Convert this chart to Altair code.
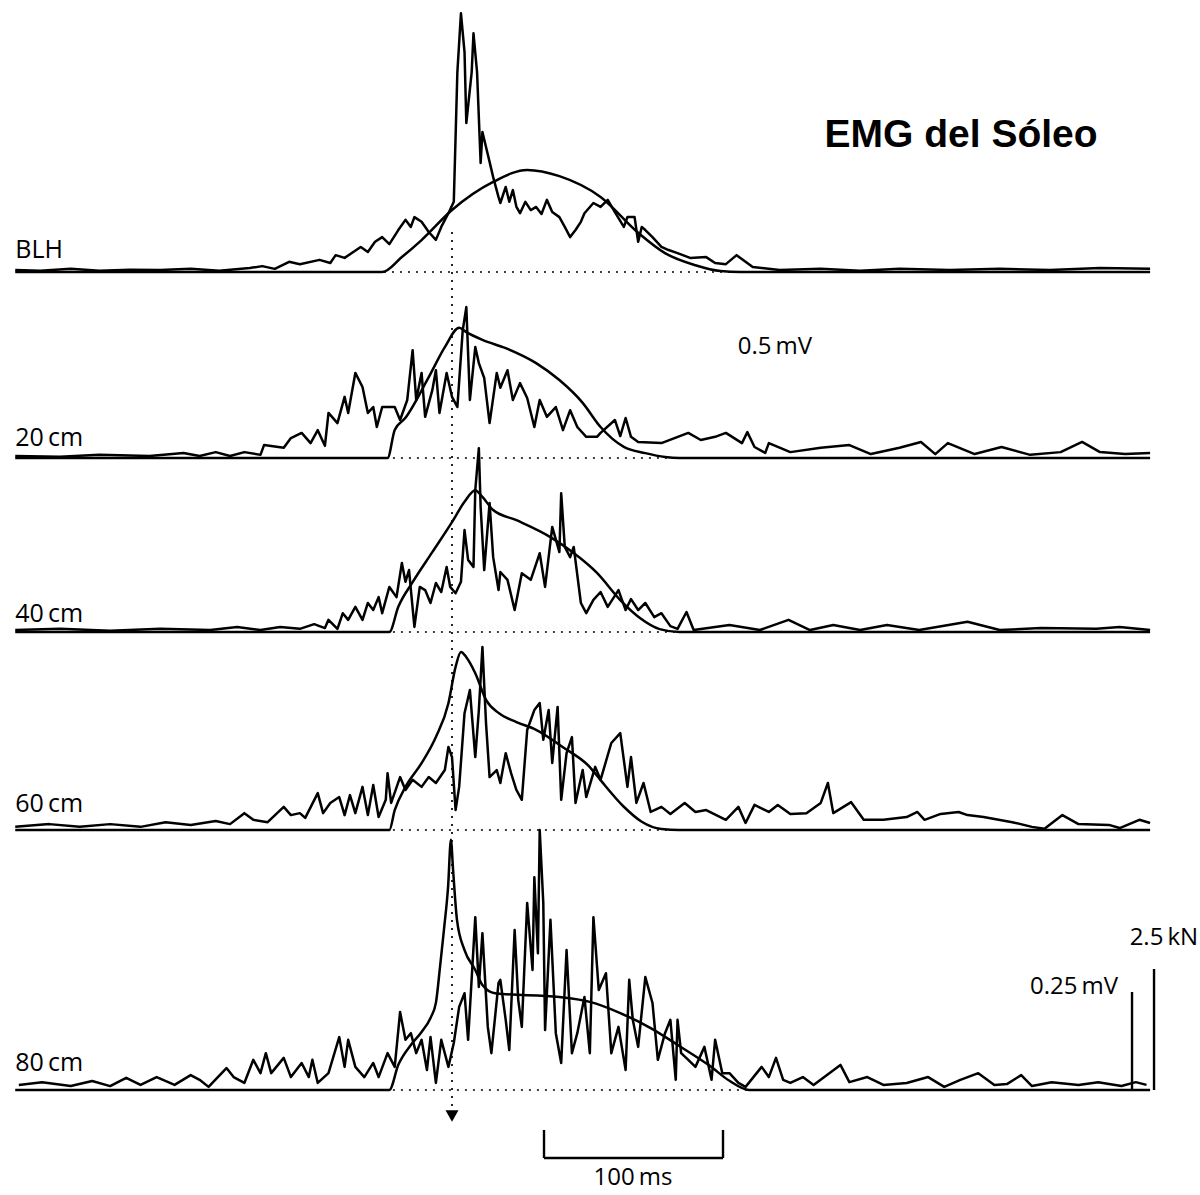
import altair as alt
import pandas as pd

# ---------------- data (time in ms, 0 = dotted reference line; EMG in µV; force in N)
BLH_EMG_T = [-244,-230,-213,-197,-180,-163,-146,-130,-113,-106,-99,-91,-85,-74,-68,-65,-60,-51,-47,
             -43,-39,-35,-30,-26,-23,-21,-17,-13,-9,-6,-2,1,3,5,7,8,11,12,14,16,17,19,21,23,26,27,30,32,34,
             36,38,41,44,47,50,53,56,60,63,66,69,72,74,79,83,87,91,96,98,102,104,106,108,112,117,121,126,133,142,
             147,153,159,164,168,183,206,228,250,278,306,334,362,390]
BLH_EMG_UV = [5,3,8,3,6,5,8,3,10,15,8,26,20,31,23,43,36,64,51,
              77,89,71,107,133,115,140,128,102,82,115,150,179,510,660,561,380,510,609,510,278,357,319,281,242,191,176,217,179,209,
              166,150,179,158,166,148,184,153,140,115,89,107,128,150,176,166,184,153,115,140,140,77,115,107,89,64,56,48,36,38,
              23,20,43,26,13,5,8,3,8,5,8,5,10,8]
BLH_F_T = [-244,-39,-28,-17,0,23,42,60,83,104,119,136,150,161,390]
BLH_F_N = [0,0,310,660,1280,1860,2110,1980,1550,810,390,140,20,0,0]

CM20_EMG_T = [-244,-219,-197,-169,-150,-141,-132,-124,-116,-107,-105,-94,-90,-84,-79,-75,-71,-69,-64,-60,
              -58,-54,-50,-47,-44,-42,-39,-32,-29,-25,-22,-20,-17,-15,-11,-9,-7,-3,0,3,
              6,8,10,13,15,18,21,25,27,31,34,38,42,46,49,53,58,62,66,70,
              75,81,83,91,94,97,100,104,117,132,139,147,153,162,165,169,175,177,189,206,
              222,234,250,262,270,277,292,307,323,340,352,362,376,390]
CM20_EMG_UV = [5,3,8,5,13,5,15,5,15,8,33,26,51,64,38,71,31,115,89,156,
               115,217,181,115,130,79,130,130,97,148,275,148,217,105,173,224,115,217,156,130,
               326,385,148,283,242,204,89,217,179,224,148,191,153,79,148,105,130,71,122,79,
               54,54,64,97,56,102,54,41,38,64,46,54,64,38,66,28,13,38,15,26,
               33,10,26,41,10,38,10,28,8,15,41,15,10,13]
CM20_F_T = [-244,-36,-32,-26,-13,-4,4,8,17,30,47,60,73,83,96,108,119,127,390]
CM20_F_N = [0,0,580,830,1670,2290,2690,2600,2440,2270,1960,1610,1140,640,230,100,20,0,0]

CM40_EMG_T = [-244,-219,-191,-163,-135,-120,-107,-96,-85,-77,-71,-69,-64,-61,-58,-54,-50,-47,-44,-41,
              -39,-35,-31,-28,-26,-24,-21,-18,-15,-12,-9,-6,-3,-1,2,5,7,9,12,13,
              15,16,18,21,23,26,27,31,35,39,44,49,52,56,60,61,63,66,68,72,
              75,79,83,87,93,97,100,104,108,113,117,122,126,131,135,155,172,188,200,213,
              228,243,261,288,306,329,360,373,390]
CM40_EMG_UV = [5,8,3,8,5,13,5,13,8,20,10,31,8,48,31,64,31,74,56,89,
               48,115,89,176,128,158,13,115,107,74,125,102,166,115,99,128,260,184,166,362,
               469,319,158,329,191,107,153,133,56,150,133,201,115,268,204,354,217,191,217,74,
               48,82,102,64,107,56,84,56,74,38,48,15,8,51,5,18,5,31,5,18,
               5,18,5,26,5,10,8,13,5]
CM40_F_T = [-244,-35,-30,-22,-11,0,7,13,17,23,36,55,68,81,94,105,116,127,390]
CM40_F_N = [0,0,520,1030,1650,2270,2690,2930,2790,2520,2310,1960,1630,1220,660,290,60,0,0]

CM60_EMG_T = [-244,-225,-208,-191,-174,-160,-146,-132,-124,-116,-111,-103,-94,-90,-85,-82,-75,-72,-68,-63,
              -60,-57,-54,-50,-47,-44,-41,-37,-36,-34,-29,-26,-22,-17,-13,-9,-4,-2,0,2,
              4,7,10,13,15,17,19,21,25,27,30,33,36,39,42,46,49,51,54,56,
              59,61,64,67,69,73,75,80,83,89,94,98,100,103,107,111,117,122,130,136,
              142,153,160,164,169,177,182,189,198,206,210,213,223,230,241,254,260,264,273,283,
              288,297,313,324,331,341,350,367,373,384,390]
CM60_EMG_UV = [8,15,8,15,8,20,13,23,15,43,26,20,59,38,43,31,94,43,69,84,
               38,89,43,110,38,115,33,77,145,69,135,102,128,110,135,120,153,212,186,51,
               110,298,357,186,306,467,273,135,153,120,196,145,102,77,255,306,324,230,306,171,
               314,77,196,237,69,153,84,161,128,222,247,110,186,69,120,46,59,41,69,46,
               51,26,59,18,64,46,64,41,43,69,120,43,71,26,26,33,46,26,41,46,
               38,33,20,8,3,38,15,13,5,26,18]
CM60_F_T = [-244,-35,-32,-26,-17,-9,-2,2,5,8,13,19,26,36,47,62,77,83,96,106,117,127,390]
CM60_F_N = [0,0,410,890,1380,1920,2620,3370,3680,3570,3240,2690,2420,2230,2070,1710,1300,1030,480,170,20,0,0]

CM80_EMG_T = [-242,-229,-213,-201,-191,-182,-174,-165,-155,-146,-141,-136,-126,-122,-116,-111,-107,-104,-101,-94,
              -90,-84,-80,-78,-75,-69,-63,-60,-58,-54,-49,-44,-41,-36,-32,-29,-26,-23,-20,-17,
              -14,-12,-9,-6,-2,1,4,7,9,13,15,17,20,22,26,27,30,32,35,37,
              39,42,45,46,48,49,51,52,55,58,61,64,67,70,74,77,79,82,86,89,
              93,97,99,101,104,108,112,115,119,122,125,126,128,132,136,141,145,147,151,155,
              160,164,173,177,181,185,189,196,202,217,222,232,241,254,266,275,284,294,303,310,
              318,324,335,350,361,374,382,388]
CM80_EMG_UV = [13,20,10,23,10,31,13,33,13,38,26,8,56,33,18,77,43,94,43,82,
               33,69,33,77,18,43,135,59,128,59,33,69,33,94,59,199,128,145,94,128,
               51,135,18,128,59,120,212,247,128,441,263,400,161,94,273,281,179,102,408,230,
               161,477,306,543,349,663,477,153,434,145,69,357,94,145,237,94,441,255,298,94,
               161,51,281,179,110,288,222,77,145,179,26,179,94,77,59,110,26,128,43,43,
               18,8,59,33,82,26,18,33,13,64,20,33,13,18,33,8,26,43,13,15,
               38,10,20,13,20,10,20,13]
CM80_F_T = [-244,-35,-30,-23,-17,-12,-9,-6.7,-4.5,-2.2,-0.6,0.6,2.8,7,13,17,24,60,77,94,111,127,144,155,166,390]
CM80_F_N = [0,0,520,930,1200,1490,1800,2540,3310,4190,5170,4550,3510,2890,2480,2170,2000,1920,1820,1590,1280,910,500,190,0,0]

PANEL_NAMES = ["BLH", "20\u2009cm", "40\u2009cm", "60\u2009cm", "80\u2009cm"]
EMG_T = [BLH_EMG_T, CM20_EMG_T, CM40_EMG_T, CM60_EMG_T, CM80_EMG_T]
EMG_UV = [BLH_EMG_UV, CM20_EMG_UV, CM40_EMG_UV, CM60_EMG_UV, CM80_EMG_UV]
F_T = [BLH_F_T, CM20_F_T, CM40_F_T, CM60_F_T, CM80_F_T]
F_N = [BLH_F_N, CM20_F_N, CM40_F_N, CM60_F_N, CM80_F_N]
ONSET_MS = [-38, -33, -33, -33, -33]       # where dotted baselines start
TRACE_END_MS = 390

CAL_EMG_UV = 250      # 0.25 mV
CAL_FORCE_N = 2500    # 2.5 kN
SCALE_MS = 100

# ---------------- layout
W, H = 1200, 1195
T0_PX, PX_PER_MS = 452, 1.79
X_DOMAIN = [-T0_PX / PX_PER_MS, (W - T0_PX) / PX_PER_MS]
BASE_PX = [272, 458, 632, 830, 1090]
EMG_GAIN = 98 / CAL_EMG_UV        # px per µV
FORCE_GAIN = 121 / CAL_FORCE_N    # px per N
LABEL_Y = [258, 446, 622, 812, 1071]

rows = []
for i, name in enumerate(PANEL_NAMES):
    for t, v in zip(EMG_T[i], EMG_UV[i]):
        rows.append({"panel": name, "kind": "emg", "t": t, "y": BASE_PX[i] - v * EMG_GAIN})
    for t, v in zip(F_T[i], F_N[i]):
        rows.append({"panel": name, "kind": "force", "t": t, "y": BASE_PX[i] - v * FORCE_GAIN})
traces = pd.DataFrame(rows)

dots = pd.DataFrame({"t0": ONSET_MS, "t1": [TRACE_END_MS] * 5, "y": BASE_PX})
vline = pd.DataFrame({"t": [0], "y0": [232], "y1": [1108]})
arrow = pd.DataFrame({"t": [0], "y": [1116]})

bar_start = 51.4
bars = pd.DataFrame([
    {"t0": bar_start, "t1": bar_start + SCALE_MS, "y0": 1158, "y1": 1158},
    {"t0": bar_start, "t1": bar_start, "y0": 1130, "y1": 1158},
    {"t0": bar_start + SCALE_MS, "t1": bar_start + SCALE_MS, "y0": 1130, "y1": 1158},
    {"t0": 379.9, "t1": 379.9, "y0": BASE_PX[4], "y1": BASE_PX[4] - CAL_EMG_UV * EMG_GAIN},
    {"t0": 392.2, "t1": 392.2, "y0": BASE_PX[4], "y1": BASE_PX[4] - CAL_FORCE_N * FORCE_GAIN},
])

labels = pd.DataFrame({"text": PANEL_NAMES, "t": [-244] * 5, "y": LABEL_Y})
units_c = pd.DataFrame({"text": ["0.5\u2009mV", "100\u2009ms"], "t": [180.4, 101.1], "y": [347, 1178]})
units_r = pd.DataFrame({"text": ["0.25\u2009mV", "2.5\u2009kN"], "t": [372.1, 416.8], "y": [987, 938]})
title = pd.DataFrame({"text": ["EMG del Sóleo"], "t": [284.4], "y": [135]})

XS = alt.Scale(domain=X_DOMAIN, nice=False, zero=False)
YS = alt.Scale(domain=[H, 0], nice=False, zero=False)

def X(f):
    return alt.X(f, type="quantitative", scale=XS, axis=None)

def Y(f):
    return alt.Y(f, type="quantitative", scale=YS, axis=None)

emg = alt.Chart(traces[traces.kind == "emg"]).mark_line(
    color="black", strokeWidth=2.5, interpolate="linear", strokeJoin="round"
).encode(x=X("t"), y=Y("y"), detail="panel:N")

force = alt.Chart(traces[traces.kind == "force"]).mark_line(
    color="black", strokeWidth=2.5, interpolate="monotone"
).encode(x=X("t"), y=Y("y"), detail="panel:N")

dotted = alt.Chart(dots).mark_rule(color="black", strokeWidth=1.7, strokeDash=[2, 6]).encode(
    x=X("t0"), x2="t1:Q", y=Y("y"))

vdot = alt.Chart(vline).mark_rule(color="black", strokeWidth=1.7, strokeDash=[2, 6]).encode(
    x=X("t"), y=Y("y0"), y2="y1:Q")

arr = alt.Chart(arrow).mark_point(shape="triangle-down", filled=True, size=170, color="black", opacity=1).encode(
    x=X("t"), y=Y("y"))

scalebars = alt.Chart(bars).mark_rule(color="black", strokeWidth=2.4).encode(
    x=X("t0"), x2="t1:Q", y=Y("y0"), y2="y1:Q")

lab = alt.Chart(labels).mark_text(align="left", baseline="alphabetic", font="Open Sans", fontSize=25,
                                  color="black").encode(x=X("t"), y=Y("y"), text="text:N")
uc = alt.Chart(units_c).mark_text(align="center", baseline="middle", font="Open Sans", fontSize=24,
                                  color="black").encode(x=X("t"), y=Y("y"), text="text:N")
ur = alt.Chart(units_r).mark_text(align="right", baseline="middle", font="Open Sans", fontSize=24,
                                  color="black").encode(x=X("t"), y=Y("y"), text="text:N")
ttl = alt.Chart(title).mark_text(align="center", baseline="middle", font="Liberation Sans", fontSize=39,
                                 fontWeight="bold", color="black").encode(x=X("t"), y=Y("y"), text="text:N")

chart = alt.layer(dotted, vdot, force, emg, scalebars, arr, lab, uc, ur, ttl).properties(
    width=W, height=H, padding=0, autosize="none", background="white"
).configure_view(stroke=None)

chart.save("out.html", embed_options={"renderer": "svg", "actions": False})
